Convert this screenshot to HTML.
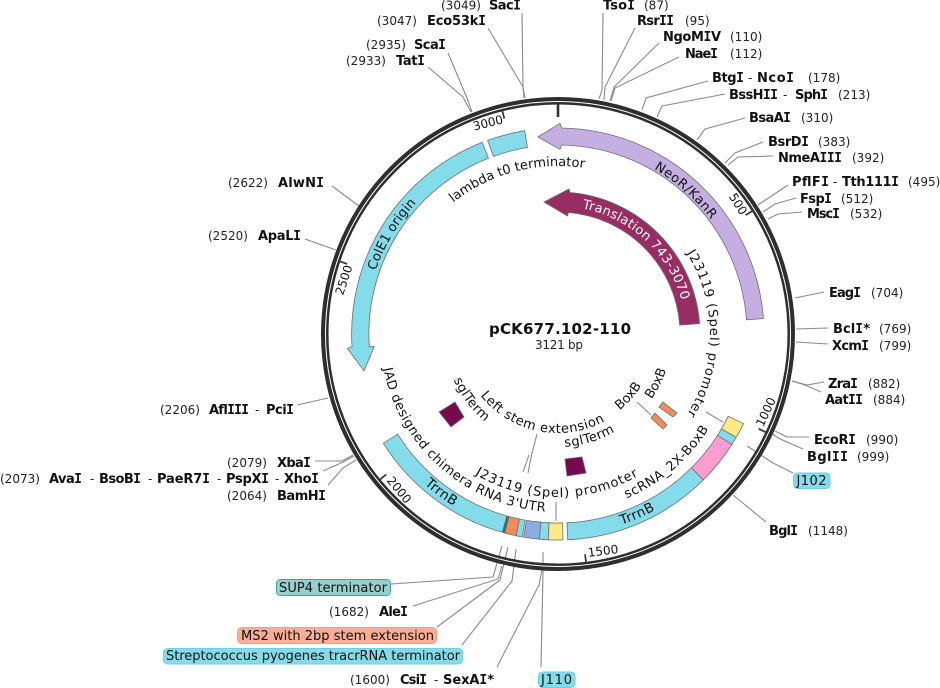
<!DOCTYPE html>
<html><head><meta charset="utf-8"><style>
html,body{margin:0;padding:0;background:#fff}
svg{display:block}
text{font-family:"DejaVu Sans","Liberation Sans",sans-serif;fill:#111}
.b{font-weight:bold;font-size:13px}
.i{font-family:"DejaVu Sans Mono","DejaVu Sans",monospace}
.n{font-size:12px;fill:#222}
.f{font-size:13px;fill:#111}
.t{font-size:12px;fill:#111}
.l{fill:none;stroke:#8a8a8a;stroke-width:1.1}
.s{stroke:#6e6e6e;stroke-width:.8}
</style></head><body>
<svg width="940" height="688" viewBox="0 0 940 688" xmlns="http://www.w3.org/2000/svg">
<defs>
<path id="c191" d="M558,525A191,191 0 1 1 558,143A191,191 0 1 1 558,525"/>
<path id="c128" d="M558,462A128,128 0 1 1 558,206A128,128 0 1 1 558,462"/>
<path id="c193" d="M558,527A193,193 0 1 1 558,141A193,193 0 1 1 558,527"/>
<path id="c168" d="M558,502A168,168 0 1 1 558,166A168,168 0 1 1 558,502"/>
<path id="c152" d="M558,486A152,152 0 1 1 558,182A152,152 0 1 1 558,486"/>
<path id="a163" d="M558,171A163,163 0 1 0 558,497A163,163 0 1 0 558,171"/>
<path id="a178" d="M558,156A178,178 0 1 0 558,512A178,178 0 1 0 558,156"/>
<path id="a99" d="M558,235A99,99 0 1 0 558,433A99,99 0 1 0 558,235"/>
<path id="a201" d="M558,133A201,201 0 1 0 558,535A201,201 0 1 0 558,133"/>
<path id="a114" d="M558,220A114,114 0 1 0 558,448A114,114 0 1 0 558,220"/>
<path id="a113" d="M558,221A113,113 0 1 0 558,447A113,113 0 1 0 558,221"/>
<path id="a98" d="M558,236A98,98 0 1 0 558,432A98,98 0 1 0 558,236"/>
</defs>

<!-- connectors -->
<g class="l">
<polyline points="522,13 523,88 525,98"/>
<polyline points="488,28 523,87 524,98"/>
<polyline points="448,53 467,98 472,112"/>
<polyline points="428,67 463,97 471,112"/>
<polyline points="603,13 602,90 599,99"/>
<polyline points="635,28 605,87 604,100"/>
<polyline points="659,43 614,87 610,101"/>
<polyline points="679,57 615,88 611,101"/>
<polyline points="708,81 646,98 642,110"/>
<polyline points="725,94 662,106 657,117"/>
<polyline points="745,118 705,129 697,140"/>
<polyline points="763,142 735,153 725,163"/>
<polyline points="773,156 738,157 728,165"/>
<polyline points="788,185 758,205"/>
<polyline points="796,198 775,204 763,212"/>
<polyline points="802,212 778,214 768,219"/>
<polyline points="824,292 795,298"/>
<polyline points="828,328 796,329"/>
<polyline points="828,344 796,342"/>
<polyline points="824,382 807,385 792,381"/>
<polyline points="821,392 805,385 792,381"/>
<polyline points="809,437 787,437 775,431"/>
<polyline points="803,449 778,438 770,432"/>
<polyline points="793,473 773,463 747,446"/>
<polyline points="766,522 733,495"/>
<polyline points="332,186 359,206"/>
<polyline points="305,239 336,250"/>
<polyline points="297,405 328,398"/>
<polyline points="315,461 342,461 353,455"/>
<polyline points="323,471 343,462 354,456"/>
<polyline points="328,485 343,468 356,460"/>
<polyline points="391,584 493,577 502,546"/>
<polyline points="413,606 498,579 502,566"/>
<polyline points="437,627 500,580 508,547"/>
<polyline points="462,645 512,581 516,549"/>
<polyline points="497,667 539,585 542,570"/>
<polyline points="541,667 543,573 543,552"/>
<polyline points="706,412 723,422"/>
<polyline points="637,402 651,415"/>
<polyline points="537,434 532,453 528,473"/>
<polyline points="529,455 523,472"/>
<polyline points="556,502 556,521"/>
</g>

<!-- backbone -->
<circle cx="558" cy="334" r="233.25" fill="none" stroke="#2e2e2e" stroke-width="7.5"/>
<circle cx="558" cy="334" r="232.5" fill="none" stroke="#fff" stroke-width="1"/>
<line x1="558" y1="103" x2="558" y2="117" stroke="#333" stroke-width="2.6"/>
<g stroke="#333" stroke-width="1.7">
<line x1="745.6" y1="215.2" x2="753.2" y2="210.4"/>
<line x1="758.7" y1="428.8" x2="766.8" y2="432.7"/>
<line x1="585" y1="554.3" x2="586.2" y2="563.3"/>
<line x1="386.2" y1="474.5" x2="379.2" y2="480.2"/>
<line x1="347.3" y1="263.9" x2="338.8" y2="261.1"/>
<line x1="504.3" y1="118.6" x2="502.1" y2="109.9"/>
</g>
<text class="t" text-anchor="middle" transform="translate(738,204) rotate(57.7)" y="4">500</text>
<text class="t" text-anchor="middle" transform="translate(766,412) rotate(-65)" y="4">1000</text>
<text class="t" text-anchor="middle" transform="translate(603,551) rotate(-7)" y="4">1500</text>
<text class="t" text-anchor="middle" transform="translate(399,490) rotate(50.7)" y="4">2000</text>
<text class="t" text-anchor="middle" transform="translate(344,280) rotate(-71.6)" y="4">2500</text>
<text class="t" text-anchor="middle" transform="translate(488,123) rotate(-14)" y="4">3000</text>

<!-- features -->
<g class="s">
<path fill="#c4aee2" d="M763.4,318.6A206,206 0 0 0 561.7,128L560,123.3L538,137L560,149.3L561.7,145A189,189 0 0 1 746.5,319.8Z"/>
<path fill="#982d63" d="M699.6,323.6A142,142 0 0 0 570,192.5L569,189L544,202L567.5,216L568.5,212.5A122,122 0 0 1 679.7,325.1Z"/>
<path fill="#84dbe9" d="M482.2,142.4A206,206 0 0 0 352,346.7L347.3,348.3L364,371L374.3,346.7L369.3,346.7A189,189 0 0 1 488.4,158.2Z"/>
<path fill="#84dbe9" d="M487.6,140.4A206,206 0 0 1 524.7,130.7L527.5,147.5A189,189 0 0 0 493.4,156.4Z"/>
<path fill="#84dbe9" d="M383.3,443.2A206,206 0 0 0 502.3,532.3L506.9,516A189,189 0 0 1 397.7,434.2Z"/>
<path fill="#0e7c78" d="M502.3,532.3A206,206 0 0 0 504.7,533L509.1,516.6A189,189 0 0 1 506.9,516Z"/>
<path fill="#f58a5b" d="M504.7,533A206,206 0 0 0 516.1,535.7L519.5,519A189,189 0 0 1 509.1,516.6Z"/>
<path fill="#84dbe9" d="M516.1,535.7A206,206 0 0 0 522.2,536.9L525.2,520.1A189,189 0 0 1 519.5,519Z"/>
<path fill="#8aaede" d="M523.6,537.1A206,206 0 0 0 539.3,539.2L540.9,522.2A189,189 0 0 1 526.5,520.4Z"/>
<path fill="#84dbe9" d="M539.3,539.2A206,206 0 0 0 548.3,539.8L549.1,522.8A189,189 0 0 1 540.9,522.2Z"/>
<path fill="#fdea85" d="M548.3,539.8A206,206 0 0 0 563,539.9L562.6,522.9A189,189 0 0 1 549.1,522.8Z"/>
<path fill="#84dbe9" d="M567.7,539.8A206,206 0 0 0 703.4,479.9L691.4,467.9A189,189 0 0 1 566.9,522.8Z"/>
<path fill="#fd9ccf" d="M703.4,479.9A206,206 0 0 0 731.9,444.4L717.6,435.3A189,189 0 0 1 691.4,467.9Z"/>
<path fill="#84dbe9" d="M731.9,444.4A206,206 0 0 0 736.2,437.3L721.5,428.8A189,189 0 0 1 717.6,435.3Z"/>
<path fill="#fdea85" d="M736.2,437.3A206,206 0 0 0 743.5,423.7L728.2,416.3A189,189 0 0 1 721.5,428.8Z"/>
<polygon fill="#780a4c" points="439,412 455,402 464,417 451,427"/>
<polygon fill="#780a4c" points="565,459 582,457 586,473 567,476"/>
<polygon fill="#f58a5b" points="651,418 655,413 667,425 663,429"/>
<polygon fill="#f58a5b" points="659,407 663,402 677,413 673,417"/>
</g>

<!-- curved labels -->
<g class="f" text-anchor="middle">
<text style="letter-spacing:.5px"><textPath href="#c191" startOffset="61.6%">NeoR/KanR</textPath></text>
<text style="fill:#fff;letter-spacing:.25px"><textPath href="#c128" startOffset="61.9%" style="fill:#fff">Translation 743-3070</textPath></text>
<text style="letter-spacing:.1px"><textPath href="#c193" startOffset="33.6%">ColE1 origin</textPath></text>
<text><textPath href="#c168" startOffset="45.9%">lambda t0 terminator</textPath></text>
<text style="letter-spacing:.85px"><textPath href="#c152" startOffset="75%">J23119 (SpeI) promoter</textPath></text>
<text style="letter-spacing:.9px"><textPath href="#a163" startOffset="49.9%">J23119 (SpeI) promoter</textPath></text>
<text style="letter-spacing:.5px"><textPath href="#a178" startOffset="38.5%">JAD designed chimera RNA 3'UTR</textPath></text>
<text style="letter-spacing:.5px"><textPath href="#a99" startOffset="46.8%">Left stem extension</textPath></text>
<text style="letter-spacing:.6px"><textPath href="#a178" startOffset="61.2%">scRNA_2X-BoxB</textPath></text>
<text style="font-size:13.5px;letter-spacing:.5px"><textPath href="#a201" startOffset="39.9%">TrrnB</textPath></text>
<text style="font-size:13.5px;letter-spacing:.5px"><textPath href="#a201" startOffset="56.6%">TrrnB</textPath></text>
<text style="letter-spacing:.4px"><textPath href="#a114" startOffset="35.3%">sglTerm</textPath></text>
<text style="letter-spacing:.4px"><textPath href="#a113" startOffset="54.7%">sglTerm</textPath></text>
<text><textPath href="#a98" startOffset="63.5%">BoxB</textPath></text>
<text><textPath href="#a114" startOffset="67.6%">BoxB</textPath></text>
</g>

<!-- center -->
<text x="489" y="334" class="b" style="font-size:15px" textLength="142">pCK677.102-110</text>
<text x="535" y="349" class="n" textLength="48">3121 bp</text>

<!-- site labels -->
<text class="b" x="603" y="9.5" textLength="32">Tso<tspan class="i">I</tspan></text><text class="n" x="644" y="9.5">(87)</text>
<text class="b" x="637" y="25" textLength="37">Rsr<tspan class="i">II</tspan></text><text class="n" x="685" y="25">(95)</text>
<text class="b" x="663" y="41" textLength="58">NgoM<tspan class="i">I</tspan>V</text><text class="n" x="730" y="41">(110)</text>
<text class="b" x="685" y="58" textLength="33">Nae<tspan class="i">I</tspan></text><text class="n" x="730" y="58">(112)</text>
<text class="b" x="712" y="82" textLength="32">Btg<tspan class="i">I</tspan></text><text class="n" x="748" y="82">-</text><text class="b" x="757" y="82" textLength="37">Nco<tspan class="i">I</tspan></text><text class="n" x="808" y="82">(178)</text>
<text class="b" x="729" y="99" textLength="49">BssH<tspan class="i">II</tspan></text><text class="n" x="783" y="99">-</text><text class="b" x="795" y="99" textLength="33">Sph<tspan class="i">I</tspan></text><text class="n" x="838" y="99">(213)</text>
<text class="b" x="749" y="122" textLength="42">BsaA<tspan class="i">I</tspan></text><text class="n" x="801" y="122">(310)</text>
<text class="b" x="768" y="146" textLength="41">BsrD<tspan class="i">I</tspan></text><text class="n" x="818" y="146">(383)</text>
<text class="b" x="778" y="162" textLength="64">NmeA<tspan class="i">III</tspan></text><text class="n" x="852" y="162">(392)</text>
<text class="b" x="792" y="186" textLength="37">PflF<tspan class="i">I</tspan></text><text class="n" x="833" y="186">-</text><text class="b" x="842" y="186" textLength="57">Tth111<tspan class="i">I</tspan></text><text class="n" x="908" y="186">(495)</text>
<text class="b" x="800" y="203" textLength="32">Fsp<tspan class="i">I</tspan></text><text class="n" x="841" y="203">(512)</text>
<text class="b" x="807" y="218" textLength="33">Msc<tspan class="i">I</tspan></text><text class="n" x="850" y="218">(532)</text>
<text class="b" x="829" y="297" textLength="32">Eag<tspan class="i">I</tspan></text><text class="n" x="871" y="297">(704)</text>
<text class="b" x="833" y="333" textLength="37">Bcl<tspan class="i">I</tspan>*</text><text class="n" x="879" y="333">(769)</text>
<text class="b" x="832" y="350" textLength="37">Xcm<tspan class="i">I</tspan></text><text class="n" x="879" y="350">(799)</text>
<text class="b" x="828" y="388" textLength="30">Zra<tspan class="i">I</tspan></text><text class="n" x="868" y="388">(882)</text>
<text class="b" x="825" y="404" textLength="38">Aat<tspan class="i">II</tspan></text><text class="n" x="873" y="404">(884)</text>
<text class="b" x="814" y="444" textLength="42">EcoR<tspan class="i">I</tspan></text><text class="n" x="866" y="444">(990)</text>
<text class="b" x="807" y="461" textLength="41">Bgl<tspan class="i">II</tspan></text><text class="n" x="857" y="461">(999)</text>
<text class="b" x="769" y="535" textLength="29">Bgl<tspan class="i">I</tspan></text><text class="n" x="808" y="535">(1148)</text>

<text class="n" x="441" y="9.5">(3049)</text><text class="b" x="489" y="9.5" textLength="32">Sac<tspan class="i">I</tspan></text>
<text class="n" x="377" y="25">(3047)</text><text class="b" x="427" y="25" textLength="59">Eco53k<tspan class="i">I</tspan></text>
<text class="n" x="366" y="49">(2935)</text><text class="b" x="414" y="49" textLength="32">Sca<tspan class="i">I</tspan></text>
<text class="n" x="346" y="65">(2933)</text><text class="b" x="396" y="65" textLength="29">Tat<tspan class="i">I</tspan></text>
<text class="n" x="228" y="187">(2622)</text><text class="b" x="278" y="187" textLength="46">AlwN<tspan class="i">I</tspan></text>
<text class="n" x="208" y="240">(2520)</text><text class="b" x="258" y="240" textLength="43">ApaL<tspan class="i">I</tspan></text>
<text class="n" x="160" y="414">(2206)</text><text class="b" x="209" y="414" textLength="40">Afl<tspan class="i">III</tspan></text><text class="n" x="255" y="414">-</text><text class="b" x="266" y="414" textLength="28">Pci<tspan class="i">I</tspan></text>
<text class="n" x="227" y="467">(2079)</text><text class="b" x="277" y="467" textLength="34">Xba<tspan class="i">I</tspan></text>
<text class="n" x="0" y="483">(2073)</text><text class="b" x="49" y="483" textLength="33">Ava<tspan class="i">I</tspan></text><text class="n" x="90" y="483">-</text><text class="b" x="99" y="483" textLength="42">BsoB<tspan class="i">I</tspan></text><text class="n" x="148" y="483">-</text><text class="b" x="157" y="483" textLength="53">PaeR7<tspan class="i">I</tspan></text><text class="n" x="217" y="483">-</text><text class="b" x="226" y="483" textLength="43">PspX<tspan class="i">I</tspan></text><text class="n" x="275" y="483">-</text><text class="b" x="284" y="483" textLength="35">Xho<tspan class="i">I</tspan></text>
<text class="n" x="227" y="500">(2064)</text><text class="b" x="277" y="500" textLength="49">BamH<tspan class="i">I</tspan></text>
<text class="n" x="329" y="616">(1682)</text><text class="b" x="379" y="616" textLength="29">Ale<tspan class="i">I</tspan></text>
<text class="n" x="350" y="684">(1600)</text><text class="b" x="400" y="684" textLength="27">Csi<tspan class="i">I</tspan></text><text class="n" x="434" y="684">-</text><text class="b" x="443" y="684" textLength="51">SexA<tspan class="i">I</tspan>*</text>

<!-- pills -->
<rect x="276.5" y="579.5" width="114" height="16" rx="4" fill="#97d0cb" stroke="#3ea39b"/>
<text class="f" x="279" y="592" textLength="108">SUP4 terminator</text>
<rect x="237.5" y="627.5" width="199" height="16" rx="4" fill="#fbae92" stroke="#f8a07e"/>
<text class="f" x="241" y="640" textLength="193">MS2 with 2bp stem extension</text>
<rect x="163.5" y="648.5" width="299" height="15.5" rx="4" fill="#84dbe9" stroke="#6fcfe0"/>
<text class="f" x="166" y="660" textLength="294">Streptococcus pyogenes tracrRNA terminator</text>
<rect x="538.5" y="672" width="36.5" height="15.5" rx="4" fill="#84dbe9" stroke="#6fcfe0"/>
<text class="f" x="541" y="684" textLength="31">J110</text>
<rect x="793.5" y="473" width="36.5" height="15.5" rx="4" fill="#84dbe9" stroke="#6fcfe0"/>
<text class="f" x="796.5" y="485" textLength="30">J102</text>
</svg>
</body></html>
